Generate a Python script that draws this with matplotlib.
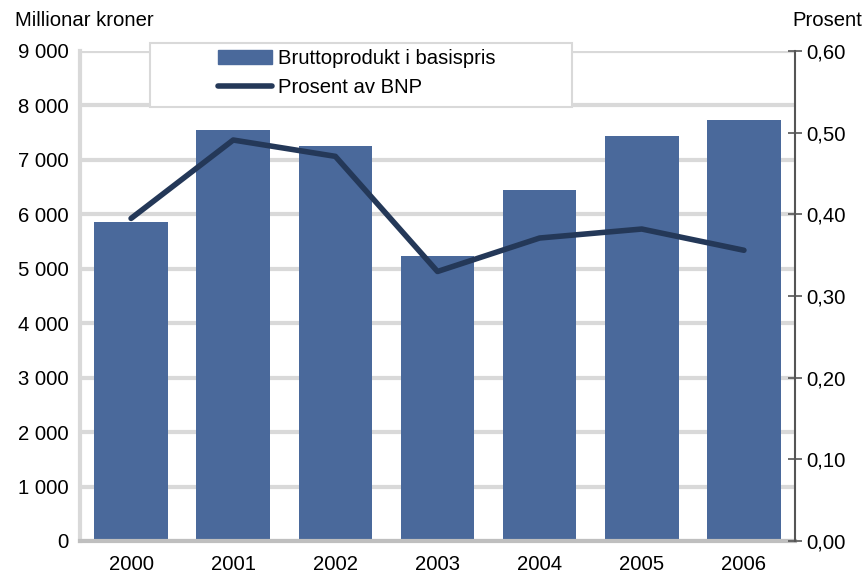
import matplotlib.pyplot as plt
import matplotlib.patches as mpatches
from matplotlib.lines import Line2D
import numpy as np

plt.rcParams['font.family'] = ['Liberation Sans', 'DejaVu Sans']

years = ['2000', '2001', '2002', '2003', '2004', '2005', '2006']
bruttoprodukt = [5860, 7550, 7255, 5235, 6450, 7440, 7730]
prosent_bnp = [0.395, 0.491, 0.471, 0.330, 0.371, 0.382, 0.356]

left_ticks = [0, 1000, 2000, 3000, 4000, 5000, 6000, 7000, 8000, 9000]
left_labels = ['0', '1 000', '2 000', '3 000', '4 000', '5 000', '6 000', '7 000', '8 000', '9 000']
right_ticks = [0, 0.1, 0.2, 0.3, 0.4, 0.5, 0.6]
right_labels = ['0,00', '0,10', '0,20', '0,30', '0,40', '0,50', '0,60']

bar_color = '#4a699b'
line_color = '#243858'
fs = 14.6

fig = plt.figure(figsize=(8.66, 5.76), dpi=100)
ax = fig.add_axes([80/866, 35/576, 715/866, 490/576])
x = np.arange(len(years))

ax.bar(x, bruttoprodukt, width=0.72, color=bar_color, zorder=3)
ax.set_xlim(-0.5, len(years) - 0.5)
ax.set_ylim(0, 9000)
ax.set_yticks(left_ticks)
ax.set_yticklabels(left_labels)
ax.set_xticks(x)
ax.set_xticklabels(years)
ax.grid(axis='y', color='#d9d9d9', linewidth=3, zorder=0)
ax.tick_params(axis='both', length=0, labelsize=fs, pad=8)
ax.tick_params(axis='x', pad=10)
for s in ['top', 'right']:
    ax.spines[s].set_visible(False)
ax.spines['left'].set_color('#d9d9d9')
ax.spines['left'].set_linewidth(3)
ax.spines['bottom'].set_color('#bfbfbf')
ax.spines['bottom'].set_linewidth(3)
ax.spines['bottom'].set_zorder(4)

ax2 = ax.twinx()
ax2.plot(x, prosent_bnp, color=line_color, linewidth=4, solid_capstyle='round', zorder=5)
ax2.set_ylim(0, 0.6)
ax2.set_yticks(right_ticks)
ax2.set_yticklabels(right_labels)
ax2.tick_params(axis='y', direction='inout', length=10, width=1.2, color='#555555', labelsize=fs, pad=3)
for s in ['top', 'left', 'bottom']:
    ax2.spines[s].set_visible(False)
ax2.spines['right'].set_color('#555555')
ax2.spines['right'].set_linewidth(1.5)

fig.text(15/866, 1 - 20/576, 'Millionar kroner', fontsize=fs, va='center', ha='left')
fig.text(862/866, 1 - 20/576, 'Prosent', fontsize=fs, va='center', ha='right')

# legend box
fig.patches.append(mpatches.Rectangle((150/866, 1 - 107/576), 422/866, 64/576,
                                      transform=fig.transFigure, facecolor='white',
                                      edgecolor='#d9d9d9', linewidth=1.5, zorder=10))
handles = [mpatches.Patch(color=bar_color), Line2D([0], [0], color=line_color, linewidth=4, solid_capstyle='round')]
leg = fig.legend(handles, ['Bruttoprodukt i basispris', 'Prosent av BNP'],
                 loc='upper left', bbox_to_anchor=(208/866, 1 - 39/576), frameon=False,
                 fontsize=fs, handlelength=2.65, handleheight=0.7, handletextpad=0.3,
                 labelspacing=0.5, borderpad=0)
leg.set_zorder(11)

fig.savefig('out.png', dpi=100)
